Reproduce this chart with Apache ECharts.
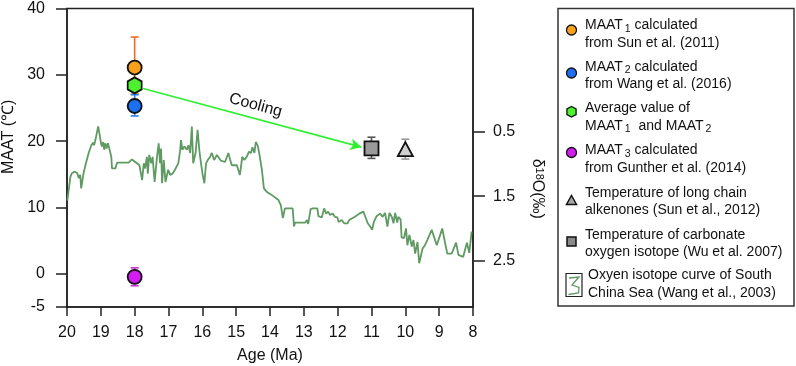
<!DOCTYPE html>
<html><head><meta charset="utf-8">
<script src="https://cdn.jsdelivr.net/npm/echarts@6/dist/echarts.min.js"></script>
<style>html,body{margin:0;padding:0;background:#fff}#c{width:796px;height:366px}</style>
</head><body><div id="c"></div>
<script>
// ---- tick labels ----
const ageTicks = [20,19,18,17,16,15,14,13,12,11,10,9,8];
const maatTicks = [-5,0,10,20,30,40];
const d18oTicks = [0.5,1.5,2.5];

// ---- point data: [age, value] and error bars [age, low, high] ----
const maat1Point = [[18, 31.1]];
const maat1Err   = [[18, 27.1, 35.7]];
const maat2Point = [[18, 25.3]];
const maat2Err   = [[18, 23.8, 27.0]];
const avgPoint   = [[18, 28.4]];
const maat3Point = [[18, -0.45]];
const maat3Err   = [[18, -1.8, 0.9]];
const alkPoint   = [[10, 18.8]];
const alkErr     = [[10, 17.3, 20.3]];
const carbPoint  = [[11, 18.9]];
const carbErr    = [[11, 17.4, 20.6]];
const coolingFrom = [17.75, 27.95];
const coolingTo   = [11.3, 19.1];

// ---- South China Sea oxygen isotope curve ----
const isoAge = [19.99,19.90,19.85,19.77,19.70,19.65,19.61,19.58,19.51,19.44,19.36,19.28,19.23,19.20,19.16,19.11,19.08,19.05,19.02,18.99,
18.97,18.93,18.90,18.87,18.83,18.79,18.75,18.69,18.67,18.57,18.52,18.18,18.08,17.98,17.86,17.78,17.73,17.69,17.64,17.61,
17.57,17.51,17.47,17.41,17.34,17.29,17.25,17.22,17.19,17.14,17.09,17.01,16.95,16.88,
16.81,16.71,16.66,16.63,16.59,16.53,16.46,16.41,16.36,16.31,16.27,16.20,16.14,16.09,16.04,15.99,15.94,15.89,15.84,15.77,
15.72,15.65,15.57,15.53,15.45,15.33,15.23,15.18,15.13,14.98,14.89,14.82,14.76,14.69,14.62,14.56,14.52,14.46,14.42,14.36,
14.32,14.24,14.18,14.10,13.95,
13.75,13.68,13.62,13.56,13.33,13.29,13.26,12.96,12.91,12.87,12.80,12.74,12.60,12.57,12.47,12.40,12.34,12.28,12.23,12.15,
12.08,12.01,11.97,11.88,11.81,11.71,11.66,11.49,11.36,11.24,11.19,11.11,11.04,10.98,10.93,10.85,10.75,10.67,10.60,10.53,
10.47,10.40,10.35,10.30,10.24,10.21,10.14,10.11,10.04,9.98,9.94,9.88,9.81,9.76,9.71,9.64,9.59,9.54,9.49,9.42,
9.35,9.22,9.14,9.07,8.97,8.91,8.83,8.76,8.63,8.58,8.50,8.43,8.29,8.18,8.11,8.04];
const isoD18O = [1.57,1.20,1.14,1.12,1.14,1.22,1.17,1.38,1.14,0.99,0.83,0.71,0.67,0.71,0.63,0.50,0.42,0.50,0.60,0.69,
0.73,0.66,0.78,0.68,0.76,0.68,0.76,0.89,1.07,1.07,0.98,0.98,0.93,0.97,1.02,1.25,0.99,1.07,0.89,1.15,
0.86,0.99,0.89,1.28,0.89,0.68,0.99,0.76,1.30,0.94,1.28,1.09,1.17,1.15,
1.09,0.99,0.81,0.63,0.78,0.73,0.78,0.71,0.83,0.42,0.99,0.83,0.47,0.78,0.99,1.17,1.30,0.99,0.94,0.89,
0.83,0.94,0.86,0.83,0.95,0.97,0.83,0.93,1.02,1.02,1.17,0.89,0.94,0.89,0.81,0.83,0.74,0.83,0.66,0.72,
0.83,1.09,1.38,1.43,1.48,
1.56,1.64,1.84,1.69,1.69,1.97,1.91,1.91,1.87,1.93,1.70,1.69,1.69,1.81,1.83,1.69,1.77,1.74,1.79,1.77,
1.82,1.83,1.90,1.87,1.92,1.92,1.87,1.82,1.77,1.74,1.77,1.92,1.97,2.02,1.90,1.81,1.77,1.82,1.76,1.97,
1.76,1.82,1.92,1.76,1.91,1.82,1.86,2.14,2.15,2.00,2.26,2.10,2.28,2.18,2.39,2.21,2.54,2.52,2.31,2.26,
2.18,2.02,2.15,2.26,2.10,2.00,2.21,2.39,2.39,2.40,2.22,2.41,2.44,2.22,2.38,2.05];

// ---- legend texts ----
const legendTexts = [
  'MAAT{s|1} calculated\nfrom Sun et al. (2011)',
  'MAAT{s|2} calculated\nfrom Wang et al. (2016)',
  'Average value of\nMAAT{s|1}  and MAAT{s|2}',
  'MAAT{s|3} calculated\nfrom Gunther et al. (2014)',
  'Temperature of long chain\nalkenones (Sun et al., 2012)',
  'Temperature of carbonate\noxygen isotope (Wu et al. 2007)',
  'Oxyen isotope curve of South\nChina Sea (Wang et al., 2003)'
];

const FONT = '"Liberation Sans", Arial, Helvetica, sans-serif';
const AX = '#222';

function errBar(color, cap) {
  return function (params, api) {
    const x = api.value(0), lo = api.value(1), hi = api.value(2);
    const p1 = api.coord([x, hi]), p2 = api.coord([x, lo]);
    const st = {stroke: color, lineWidth: 1.6};
    return {type: 'group', children: [
      {type: 'line', shape: {x1: p1[0], y1: p1[1], x2: p2[0], y2: p2[1]}, style: st},
      {type: 'line', shape: {x1: p1[0]-cap, y1: p1[1], x2: p1[0]+cap, y2: p1[1]}, style: st},
      {type: 'line', shape: {x1: p2[0]-cap, y1: p2[1], x2: p2[0]+cap, y2: p2[1]}, style: st}
    ]};
  };
}
function errSeries(data, color) {
  return {type: 'custom', data: data, renderItem: errBar(color, 4), encode: {x: 0, y: [1, 2]}, z: 2, silent: true};
}
const hexPath = 'path://M0,-10L8.66,-5L8.66,5L0,10L-8.66,5L-8.66,-5Z';
function pt(data, symbol, size, fill) {
  return {type: 'scatter', data: data, symbol: symbol, symbolSize: size, z: 5,
    itemStyle: {color: fill, borderColor: '#111', borderWidth: 1.8, opacity: 1}};
}

// ---- graphic legend ----
const LX = 558, LY = 8.5, LW = 236, LH = 297.5;
const lineY = [25.5, 67, 108.5, 150.5, 193, 235, 275.5];
const legendEls = [{type: 'rect', shape: {x: LX, y: LY, width: LW, height: LH},
  style: {fill: '#fff', stroke: '#333', lineWidth: 1.5}}];
const icx = 571.5;
const iconEls = [
  {type: 'circle', shape: {cx: icx, cy: 30, r: 5}, style: {fill: '#f9a11b', stroke: '#111', lineWidth: 1.3}},
  {type: 'circle', shape: {cx: icx, cy: 73, r: 5}, style: {fill: '#1b6ff0', stroke: '#111', lineWidth: 1.3}},
  {type: 'polygon', shape: {points: [[icx,106.5],[icx+4.6,109],[icx+4.6,114.5],[icx,117],[icx-4.6,114.5],[icx-4.6,109]]}, style: {fill: '#4cf02e', stroke: '#111', lineWidth: 1.3}},
  {type: 'circle', shape: {cx: icx, cy: 152.5, r: 5}, style: {fill: '#d21cf2', stroke: '#111', lineWidth: 1.3}},
  {type: 'polygon', shape: {points: [[icx,195.5],[icx+5,204.5],[icx-5,204.5]]}, style: {fill: '#a8a8a8', stroke: '#111', lineWidth: 1.5}},
  {type: 'rect', shape: {x: icx-4.5, y: 237, width: 9, height: 9}, style: {fill: '#8a8a8a', stroke: '#111', lineWidth: 1.5}},
  {type: 'rect', shape: {x: 566, y: 273.5, width: 16, height: 23}, style: {fill: '#fff', stroke: '#222', lineWidth: 1.2}},
  {type: 'polyline', shape: {points: [[569,278],[579,277],[572,285],[579,287.5],[578.5,293],[568.5,294.5]]}, style: {stroke: '#5e9a62', lineWidth: 1.3, fill: null}}
];
legendEls.push(...iconEls);
legendTexts.forEach((t, i) => {
  legendEls.push({type: 'text', x: i === 6 ? 588 : 585, y: lineY[i] - 8.75,
    style: {text: t, fontSize: 14, fontFamily: FONT, fill: '#111', lineHeight: 17.5, verticalAlign: 'top',
      rich: {s: {fontSize: 10.5, fontFamily: FONT, fill: '#111', verticalAlign: 'bottom', lineHeight: 11, padding: [0, 0, 0, 2]}}}});
});

const chart = echarts.init(document.getElementById('c'), null, {renderer: 'canvas'});
chart.setOption({
  animation: false,
  backgroundColor: '#fff',
  textStyle: {fontFamily: FONT},
  grid: {left: 67, right: 323, top: 8.5, bottom: 59, show: true, borderColor: AX, borderWidth: 1.5,
    backgroundColor: 'transparent', containLabel: false, outerBoundsMode: 'none'},
  xAxis: {
    type: 'value', inverse: true, min: 8, max: 20, interval: 1,
    name: 'Age (Ma)', nameLocation: 'middle', nameGap: 41,
    nameTextStyle: {fontSize: 16, color: '#111', fontFamily: FONT},
    axisLine: {onZero: false, lineStyle: {color: AX, width: 1.5}},
    axisTick: {length: 9, lineStyle: {color: AX, width: 1.5}},
    axisLabel: {fontSize: 16, color: '#111', margin: 18, fontFamily: FONT,
      formatter: v => ageTicks.includes(v) ? String(v) : ''},
    splitLine: {show: false}
  },
  yAxis: [{
    type: 'value', min: -5, max: 40, position: 'left',
    name: 'MAAT (℃)', nameLocation: 'middle', nameGap: 46, nameRotate: 90,
    nameTextStyle: {fontSize: 16, color: '#111', fontFamily: FONT, padding: [0, 0, 0, 42]},
    axisLine: {show: true, onZero: false, lineStyle: {color: AX, width: 1.5}},
    axisTick: {show: true, length: 11, customValues: maatTicks, lineStyle: {color: AX, width: 1.5}},
    axisLabel: {fontSize: 16, color: '#111', margin: 22, customValues: maatTicks, fontFamily: FONT},
    splitLine: {show: false}
  }, {
    type: 'value', min: -1.41, max: 3.218, inverse: true, position: 'right',
    name: 'δ{sup|18}O(‰)', nameLocation: 'middle', nameGap: 56, nameRotate: -90,
    nameTextStyle: {fontSize: 16, color: '#111', fontFamily: FONT, padding: [0, 0, 0, 62],
      rich: {sup: {fontSize: 11, color: '#111', fontFamily: FONT, verticalAlign: 'top', lineHeight: 10}}},
    axisLine: {show: true, onZero: false, lineStyle: {color: AX, width: 1.5}},
    axisTick: {show: true, length: 12, customValues: d18oTicks, lineStyle: {color: AX, width: 1.5}},
    axisLabel: {fontSize: 16, color: '#111', margin: 20, customValues: d18oTicks, fontFamily: FONT,
      formatter: v => Number(v).toFixed(1)},
    splitLine: {show: false}
  }],
  series: [
    {type: 'line', yAxisIndex: 1, data: isoAge.map((a, i) => [a, isoD18O[i]]), showSymbol: false, symbol: 'none',
      lineStyle: {color: '#5e9a62', width: 1.8}, z: 1, silent: true},
    errSeries(maat1Err, '#f26b21'),
    errSeries(maat2Err, '#2a7cf0'),
    errSeries(maat3Err, '#d02ee0'),
    errSeries(carbErr, '#555555'),
    errSeries(alkErr, '#999999'),
    pt(maat2Point, 'circle', 14, '#1b6ff0'),
    Object.assign(pt(avgPoint, hexPath, [14, 16], '#4cf02e'), {
      markLine: {silent: true, symbol: ['none', 'arrow'], symbolSize: [9, 11],
        lineStyle: {color: '#2ef02e', width: 1.6, type: 'solid'},
        label: {show: true, formatter: 'Cooling', position: 'insideMiddleTop', distance: 5, fontSize: 16, color: '#111', fontFamily: FONT},
        data: [[{coord: coolingFrom}, {coord: coolingTo}]]}
    }),
    pt(maat1Point, 'circle', 14, '#f9a11b'),
    pt(maat3Point, 'circle', 14, '#d21cf2'),
    pt(carbPoint, 'rect', 14, '#9a9a9a'),
    pt(alkPoint, 'triangle', [15, 14], '#d0d0d0')
  ],
  graphic: legendEls
});
</script></body></html>
